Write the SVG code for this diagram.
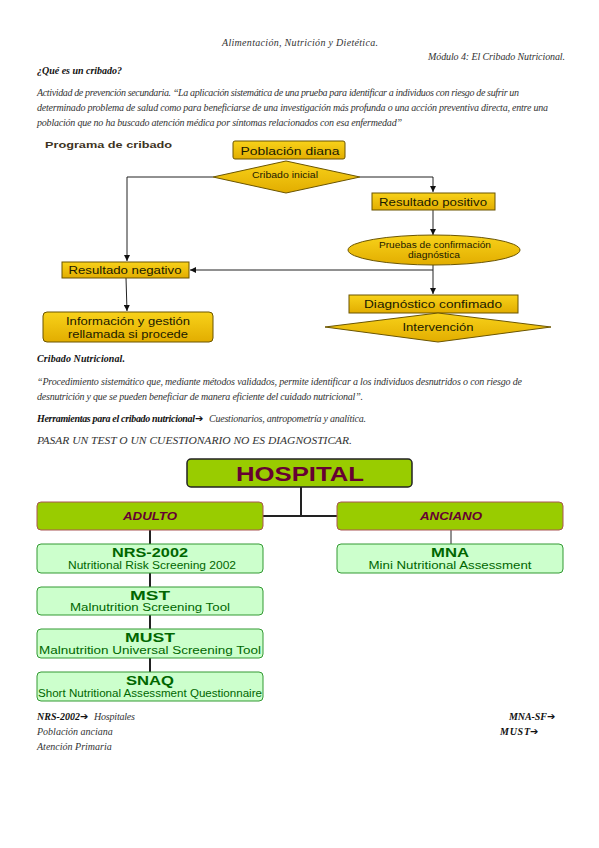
<svg xmlns="http://www.w3.org/2000/svg" width="599" height="848" viewBox="0 0 599 848">
<defs>
<linearGradient id="yel" x1="0" y1="0" x2="0" y2="1">
<stop offset="0" stop-color="#f8d21a"/>
<stop offset="1" stop-color="#e2ad00"/>
</linearGradient>
<marker id="ah" viewBox="0 0 8 8" refX="8" refY="4" markerWidth="6" markerHeight="6" orient="auto" markerUnits="userSpaceOnUse">
<path d="M0,0 L8,4 L0,8 z" fill="#111"/>
</marker>
</defs>
<style>
.doc{font-family:"Liberation Serif",serif;font-style:italic;font-size:10px;fill:#333}
.docb{font-family:"Liberation Serif",serif;font-style:italic;font-weight:bold;font-size:10px;fill:#111}
.arr{font-family:"DejaVu Sans",sans-serif;font-size:10px;font-weight:bold;fill:#111}
.y{fill:url(#yel);stroke:#6b5500;stroke-width:1}
.yt{font-family:"Liberation Sans",Arial,sans-serif;fill:#1a1a00;text-anchor:middle}
.con{stroke:#222;stroke-width:1;fill:none}
.g1{fill:#99cc00;stroke:#222;stroke-width:1.5}
.g2{fill:#99cc00;stroke:#aa5555;stroke-width:1}
.g3{fill:#ccffcc;stroke:#339933;stroke-width:1}
.gt{font-family:"Liberation Sans",Arial,sans-serif;text-anchor:middle;fill:#660033;font-weight:bold}
.lt{font-family:"Liberation Sans",Arial,sans-serif;text-anchor:middle;fill:#006600}
.oc{stroke:#222;stroke-width:2;fill:none}
</style>
<rect width="599" height="848" fill="#fff"/>

<!-- header text -->
<text class="doc" x="300" y="46" text-anchor="middle" font-size="11" textLength="156">Alimentación, Nutrición y Dietética.</text>
<text class="doc" x="565" y="60" text-anchor="end" textLength="137">Módulo 4: El Cribado Nutricional.</text>
<text class="docb" x="37" y="74" textLength="85">¿Qué es un cribado?</text>
<text class="doc" x="37" y="96" textLength="482">Actividad de prevención secundaria. “La aplicación sistemática de una prueba para identificar a individuos con riesgo de sufrir un</text>
<text class="doc" x="37" y="111" textLength="511">determinado problema de salud como para beneficiarse de una investigación más profunda o una acción preventiva directa, entre una</text>
<text class="doc" x="37" y="126" textLength="365">población que no ha buscado atención médica por síntomas relacionados con esa enfermedad”</text>

<text x="45" y="148" font-family="Liberation Sans,Arial,sans-serif" font-weight="bold" font-size="9.5" fill="#3d3322" textLength="127" lengthAdjust="spacingAndGlyphs">Programa de cribado</text>

<!-- flowchart connectors -->
<g id="flow-connectors">
<polyline class="con" points="213,177 127,177 127,261" marker-end="url(#ah)"/>
<polyline class="con" points="360,177 433,177 433,192" marker-end="url(#ah)"/>
<line class="con" x1="433" y1="210" x2="433" y2="235" marker-end="url(#ah)"/>
<line class="con" x1="433" y1="265" x2="433" y2="294" marker-end="url(#ah)"/>
<line class="con" x1="433" y1="270" x2="190" y2="270" marker-end="url(#ah)"/>
<line class="con" x1="126" y1="278" x2="127" y2="311" marker-end="url(#ah)"/>
</g>

<g id="poblacion">
<rect class="y" x="233" y="141" width="112" height="18" rx="2"/>
<text class="yt" x="290" y="155" font-size="11.5" textLength="99" lengthAdjust="spacingAndGlyphs">Población diana</text>
</g>
<g id="cribado-inicial">
<polygon class="y" points="213,177 286,161 360,177 286,193"/>
<text class="yt" x="285" y="178" font-size="8.5" textLength="66" lengthAdjust="spacingAndGlyphs">Cribado inicial</text>
</g>
<g id="positivo">
<rect class="y" x="372" y="193" width="123" height="17"/>
<text class="yt" x="433" y="206" font-size="11.5" textLength="108" lengthAdjust="spacingAndGlyphs">Resultado positivo</text>
</g>
<g id="pruebas">
<ellipse class="y" cx="434" cy="250" rx="86" ry="15"/>
<text class="yt" x="435" y="248" font-size="8.5" textLength="112" lengthAdjust="spacingAndGlyphs">Pruebas de confirmación</text>
<text class="yt" x="434" y="258" font-size="8.5" textLength="52" lengthAdjust="spacingAndGlyphs">diagnóstica</text>
</g>
<g id="negativo">
<rect class="y" x="62" y="262" width="127" height="16"/>
<text class="yt" x="125" y="274" font-size="11" textLength="113" lengthAdjust="spacingAndGlyphs">Resultado negativo</text>
</g>
<g id="informacion">
<rect class="y" x="43" y="312" width="170" height="30" rx="4"/>
<text class="yt" x="128" y="325" font-size="11.5" textLength="124" lengthAdjust="spacingAndGlyphs">Información y gestión</text>
<text class="yt" x="128" y="338" font-size="11.5" textLength="120" lengthAdjust="spacingAndGlyphs">rellamada si procede</text>
</g>
<g id="diagnostico">
<rect class="y" x="349" y="295" width="169" height="18"/>
<text class="yt" x="433" y="308" font-size="11.5" textLength="138" lengthAdjust="spacingAndGlyphs">Diagnóstico confimado</text>
</g>
<g id="intervencion">
<polygon class="y" points="325,327 438,313 551,327 438,342"/>
<text class="yt" x="438" y="331" font-size="11.5" textLength="71" lengthAdjust="spacingAndGlyphs">Intervención</text>
</g>

<!-- middle text -->
<text class="docb" x="37" y="362" textLength="88">Cribado Nutricional.</text>
<text class="doc" x="37" y="385" textLength="485">“Procedimiento sistemático que, mediante métodos validados, permite identificar a los individuos desnutridos o con riesgo de</text>
<text class="doc" x="37" y="400" textLength="326">desnutrición y que se pueden beneficiar de manera eficiente del cuidado nutricional”.</text>
<text class="docb" x="37" y="422" textLength="158">Herramientas para el cribado nutricional</text>
<text class="arr" x="195" y="422">➔</text>
<text class="doc" x="209" y="422" textLength="157">Cuestionarios, antropometría y analítica.</text>
<text class="doc" x="37" y="444" textLength="315" lengthAdjust="spacingAndGlyphs">PASAR UN TEST O UN CUESTIONARIO NO ES DIAGNOSTICAR.</text>

<!-- org chart connectors -->
<g id="org-connectors">
<polyline class="oc" points="301,487 301,516"/>
<line class="oc" x1="263" y1="516" x2="337" y2="516"/>
<line class="oc" x1="150" y1="530" x2="150" y2="544"/>
<line class="oc" x1="150" y1="573" x2="150" y2="587"/>
<line class="oc" x1="150" y1="615" x2="150" y2="629"/>
<line class="oc" x1="150" y1="658" x2="150" y2="672"/>
<line class="con" x1="451" y1="530" x2="451" y2="544"/>
</g>

<g id="hospital">
<rect class="g1" x="187" y="459" width="225" height="28" rx="4"/>
<text class="gt" x="300" y="481" font-size="21" textLength="128" lengthAdjust="spacingAndGlyphs">HOSPITAL</text>
</g>
<g id="adulto">
<rect class="g2" x="37" y="502" width="226" height="28" rx="4"/>
<text class="gt" x="150" y="520" font-size="10" font-style="italic" textLength="54" lengthAdjust="spacingAndGlyphs">ADULTO</text>
</g>
<g id="anciano">
<rect class="g2" x="337" y="502" width="226" height="28" rx="4"/>
<text class="gt" x="451" y="520" font-size="10" font-style="italic" textLength="62" lengthAdjust="spacingAndGlyphs">ANCIANO</text>
</g>
<g id="nrs">
<rect class="g3" x="37" y="544" width="226" height="29" rx="4"/>
<text class="lt" x="150" y="557" font-size="13.5" font-weight="bold" textLength="76" lengthAdjust="spacingAndGlyphs">NRS-2002</text>
<text class="lt" x="152" y="569" font-size="10" textLength="168" lengthAdjust="spacingAndGlyphs">Nutritional Risk Screening 2002</text>
</g>
<g id="mst">
<rect class="g3" x="37" y="587" width="226" height="28" rx="4"/>
<text class="lt" x="150" y="600" font-size="13.5" font-weight="bold" textLength="40" lengthAdjust="spacingAndGlyphs">MST</text>
<text class="lt" x="150" y="611" font-size="10" textLength="160" lengthAdjust="spacingAndGlyphs">Malnutrition Screening Tool</text>
</g>
<g id="must">
<rect class="g3" x="37" y="629" width="226" height="29" rx="4"/>
<text class="lt" x="150" y="642" font-size="13.5" font-weight="bold" textLength="50" lengthAdjust="spacingAndGlyphs">MUST</text>
<text class="lt" x="150" y="654" font-size="10" textLength="222" lengthAdjust="spacingAndGlyphs">Malnutrition Universal Screening Tool</text>
</g>
<g id="snaq">
<rect class="g3" x="37" y="672" width="226" height="29" rx="4"/>
<text class="lt" x="150" y="685" font-size="13.5" font-weight="bold" textLength="48" lengthAdjust="spacingAndGlyphs">SNAQ</text>
<text class="lt" x="150" y="697" font-size="10" textLength="224" lengthAdjust="spacingAndGlyphs">Short Nutritional Assessment Questionnaire</text>
</g>
<g id="mna">
<rect class="g3" x="337" y="544" width="226" height="29" rx="4"/>
<text class="lt" x="450" y="557" font-size="13.5" font-weight="bold" textLength="38" lengthAdjust="spacingAndGlyphs">MNA</text>
<text class="lt" x="450" y="569" font-size="10" textLength="163" lengthAdjust="spacingAndGlyphs">Mini Nutritional Assessment</text>
</g>

<!-- bottom text -->
<text class="docb" x="37" y="720" textLength="43">NRS-2002</text>
<text class="arr" x="80" y="720">➔</text>
<text class="doc" x="94" y="720" textLength="41">Hospitales</text>
<text class="doc" x="37" y="735">Población anciana</text>
<text class="doc" x="37" y="750">Atención Primaria</text>
<text class="docb" x="547" y="720" text-anchor="end" textLength="38">MNA-SF</text>
<text class="arr" x="547" y="720">➔</text>
<text class="docb" x="530" y="735" text-anchor="end" textLength="30">MUST</text>
<text class="arr" x="530" y="735">➔</text>
</svg>
